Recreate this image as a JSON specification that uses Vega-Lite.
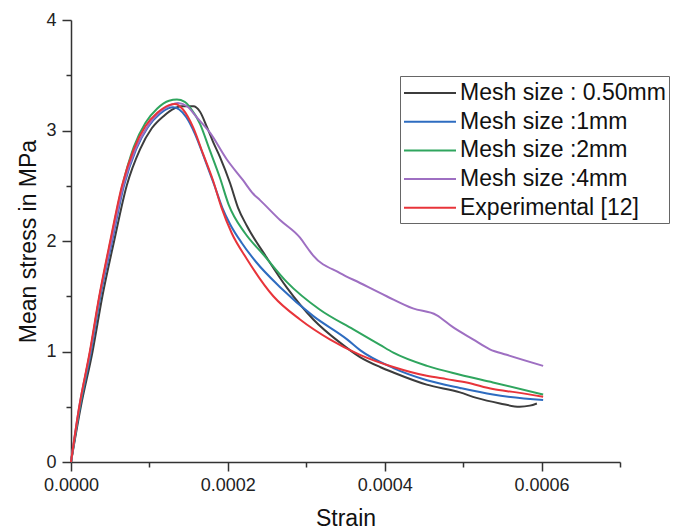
{
  "$schema": "https://vega.github.io/schema/vega-lite/v6.json",
  "width": 549,
  "height": 442,
  "autosize": "none",
  "padding": {"left": 71, "top": 20, "right": 61, "bottom": 67},
  "background": "white",
  "config": {
    "view": {"stroke": null},
    "font": "Liberation Sans",
    "axis": {"grid": false, "domainColor": "#333", "tickColor": "#333", "domainWidth": 1.5, "tickWidth": 1.5, "labelFont": "Liberation Sans", "labelFontSize": 18, "labelColor": "#222", "titleFont": "Liberation Sans", "titleFontSize": 23, "titleFontWeight": "normal", "titleColor": "#111"}
  },
  "data": {"values": [
    {"s": "Mesh size : 0.50mm", "x": 0, "y": 0},
    {"s": "Mesh size : 0.50mm", "x": 0.0000125, "y": 0.5},
    {"s": "Mesh size : 0.50mm", "x": 0.0000275, "y": 1.0},
    {"s": "Mesh size : 0.50mm", "x": 0.00004, "y": 1.5},
    {"s": "Mesh size : 0.50mm", "x": 0.000055, "y": 2.0},
    {"s": "Mesh size : 0.50mm", "x": 0.000071, "y": 2.5},
    {"s": "Mesh size : 0.50mm", "x": 0.000088, "y": 2.83},
    {"s": "Mesh size : 0.50mm", "x": 0.000103, "y": 3.02},
    {"s": "Mesh size : 0.50mm", "x": 0.000118, "y": 3.13},
    {"s": "Mesh size : 0.50mm", "x": 0.000132, "y": 3.2},
    {"s": "Mesh size : 0.50mm", "x": 0.00014, "y": 3.22},
    {"s": "Mesh size : 0.50mm", "x": 0.000156, "y": 3.22},
    {"s": "Mesh size : 0.50mm", "x": 0.0001645, "y": 3.17},
    {"s": "Mesh size : 0.50mm", "x": 0.0001734, "y": 3.03},
    {"s": "Mesh size : 0.50mm", "x": 0.000181, "y": 2.9},
    {"s": "Mesh size : 0.50mm", "x": 0.00019, "y": 2.76},
    {"s": "Mesh size : 0.50mm", "x": 0.000203, "y": 2.52},
    {"s": "Mesh size : 0.50mm", "x": 0.000213, "y": 2.3},
    {"s": "Mesh size : 0.50mm", "x": 0.000224, "y": 2.14},
    {"s": "Mesh size : 0.50mm", "x": 0.0002495, "y": 1.85},
    {"s": "Mesh size : 0.50mm", "x": 0.000275, "y": 1.58},
    {"s": "Mesh size : 0.50mm", "x": 0.000309, "y": 1.29},
    {"s": "Mesh size : 0.50mm", "x": 0.000343, "y": 1.08},
    {"s": "Mesh size : 0.50mm", "x": 0.0003685, "y": 0.95},
    {"s": "Mesh size : 0.50mm", "x": 0.000394, "y": 0.86},
    {"s": "Mesh size : 0.50mm", "x": 0.000411, "y": 0.81},
    {"s": "Mesh size : 0.50mm", "x": 0.0004535, "y": 0.7},
    {"s": "Mesh size : 0.50mm", "x": 0.000496, "y": 0.63},
    {"s": "Mesh size : 0.50mm", "x": 0.000517, "y": 0.58},
    {"s": "Mesh size : 0.50mm", "x": 0.000547, "y": 0.53},
    {"s": "Mesh size : 0.50mm", "x": 0.000572, "y": 0.5},
    {"s": "Mesh size : 0.50mm", "x": 0.000585, "y": 0.51},
    {"s": "Mesh size : 0.50mm", "x": 0.000594, "y": 0.53},

    {"s": "Mesh size :1mm", "x": 0, "y": 0},
    {"s": "Mesh size :1mm", "x": 0.0000115, "y": 0.5},
    {"s": "Mesh size :1mm", "x": 0.0000255, "y": 1.0},
    {"s": "Mesh size :1mm", "x": 0.0000375, "y": 1.5},
    {"s": "Mesh size :1mm", "x": 0.0000525, "y": 2.0},
    {"s": "Mesh size :1mm", "x": 0.0000675, "y": 2.5},
    {"s": "Mesh size :1mm", "x": 0.000083, "y": 2.83},
    {"s": "Mesh size :1mm", "x": 0.000098, "y": 3.03},
    {"s": "Mesh size :1mm", "x": 0.000113, "y": 3.15},
    {"s": "Mesh size :1mm", "x": 0.000124, "y": 3.2},
    {"s": "Mesh size :1mm", "x": 0.00013, "y": 3.21},
    {"s": "Mesh size :1mm", "x": 0.000138, "y": 3.19},
    {"s": "Mesh size :1mm", "x": 0.000147, "y": 3.12},
    {"s": "Mesh size :1mm", "x": 0.000158, "y": 2.97},
    {"s": "Mesh size :1mm", "x": 0.00017, "y": 2.75},
    {"s": "Mesh size :1mm", "x": 0.000183, "y": 2.5},
    {"s": "Mesh size :1mm", "x": 0.000193, "y": 2.3},
    {"s": "Mesh size :1mm", "x": 0.000203, "y": 2.15},
    {"s": "Mesh size :1mm", "x": 0.000218, "y": 1.98},
    {"s": "Mesh size :1mm", "x": 0.000236, "y": 1.81},
    {"s": "Mesh size :1mm", "x": 0.000267, "y": 1.58},
    {"s": "Mesh size :1mm", "x": 0.000309, "y": 1.32},
    {"s": "Mesh size :1mm", "x": 0.000352, "y": 1.11},
    {"s": "Mesh size :1mm", "x": 0.000369, "y": 1.01},
    {"s": "Mesh size :1mm", "x": 0.000411, "y": 0.85},
    {"s": "Mesh size :1mm", "x": 0.000454, "y": 0.74},
    {"s": "Mesh size :1mm", "x": 0.000496, "y": 0.67},
    {"s": "Mesh size :1mm", "x": 0.000538, "y": 0.61},
    {"s": "Mesh size :1mm", "x": 0.000602, "y": 0.56},

    {"s": "Mesh size :2mm", "x": 0, "y": 0},
    {"s": "Mesh size :2mm", "x": 0.000011, "y": 0.5},
    {"s": "Mesh size :2mm", "x": 0.0000245, "y": 1.0},
    {"s": "Mesh size :2mm", "x": 0.0000365, "y": 1.5},
    {"s": "Mesh size :2mm", "x": 0.0000505, "y": 2.0},
    {"s": "Mesh size :2mm", "x": 0.0000655, "y": 2.5},
    {"s": "Mesh size :2mm", "x": 0.00008, "y": 2.85},
    {"s": "Mesh size :2mm", "x": 0.000095, "y": 3.07},
    {"s": "Mesh size :2mm", "x": 0.00011, "y": 3.2},
    {"s": "Mesh size :2mm", "x": 0.000125, "y": 3.27},
    {"s": "Mesh size :2mm", "x": 0.000135, "y": 3.28},
    {"s": "Mesh size :2mm", "x": 0.000145, "y": 3.26},
    {"s": "Mesh size :2mm", "x": 0.0001517, "y": 3.21},
    {"s": "Mesh size :2mm", "x": 0.0001645, "y": 3.06},
    {"s": "Mesh size :2mm", "x": 0.000176, "y": 2.84},
    {"s": "Mesh size :2mm", "x": 0.00019, "y": 2.57},
    {"s": "Mesh size :2mm", "x": 0.000201, "y": 2.33},
    {"s": "Mesh size :2mm", "x": 0.000222, "y": 2.07},
    {"s": "Mesh size :2mm", "x": 0.000245, "y": 1.88},
    {"s": "Mesh size :2mm", "x": 0.000275, "y": 1.63},
    {"s": "Mesh size :2mm", "x": 0.000317, "y": 1.38},
    {"s": "Mesh size :2mm", "x": 0.00036, "y": 1.2},
    {"s": "Mesh size :2mm", "x": 0.000394, "y": 1.06},
    {"s": "Mesh size :2mm", "x": 0.000411, "y": 0.99},
    {"s": "Mesh size :2mm", "x": 0.000454, "y": 0.87},
    {"s": "Mesh size :2mm", "x": 0.000496, "y": 0.79},
    {"s": "Mesh size :2mm", "x": 0.000538, "y": 0.72},
    {"s": "Mesh size :2mm", "x": 0.000602, "y": 0.61},

    {"s": "Mesh size :4mm", "x": 0, "y": 0},
    {"s": "Mesh size :4mm", "x": 0.0000105, "y": 0.5},
    {"s": "Mesh size :4mm", "x": 0.0000245, "y": 1.0},
    {"s": "Mesh size :4mm", "x": 0.0000365, "y": 1.5},
    {"s": "Mesh size :4mm", "x": 0.0000515, "y": 2.0},
    {"s": "Mesh size :4mm", "x": 0.0000665, "y": 2.5},
    {"s": "Mesh size :4mm", "x": 0.000082, "y": 2.83},
    {"s": "Mesh size :4mm", "x": 0.000097, "y": 3.03},
    {"s": "Mesh size :4mm", "x": 0.000112, "y": 3.16},
    {"s": "Mesh size :4mm", "x": 0.000127, "y": 3.23},
    {"s": "Mesh size :4mm", "x": 0.0001364, "y": 3.25},
    {"s": "Mesh size :4mm", "x": 0.000148, "y": 3.22},
    {"s": "Mesh size :4mm", "x": 0.0001603, "y": 3.12},
    {"s": "Mesh size :4mm", "x": 0.0001772, "y": 2.98},
    {"s": "Mesh size :4mm", "x": 0.0001985, "y": 2.74},
    {"s": "Mesh size :4mm", "x": 0.0002193, "y": 2.55},
    {"s": "Mesh size :4mm", "x": 0.000232, "y": 2.43},
    {"s": "Mesh size :4mm", "x": 0.000241, "y": 2.37},
    {"s": "Mesh size :4mm", "x": 0.0002665, "y": 2.19},
    {"s": "Mesh size :4mm", "x": 0.000292, "y": 2.03},
    {"s": "Mesh size :4mm", "x": 0.0003022, "y": 1.93},
    {"s": "Mesh size :4mm", "x": 0.0003086, "y": 1.87},
    {"s": "Mesh size :4mm", "x": 0.000343, "y": 1.71},
    {"s": "Mesh size :4mm", "x": 0.0003685, "y": 1.62},
    {"s": "Mesh size :4mm", "x": 0.0004025, "y": 1.5},
    {"s": "Mesh size :4mm", "x": 0.000436, "y": 1.39},
    {"s": "Mesh size :4mm", "x": 0.000466, "y": 1.33},
    {"s": "Mesh size :4mm", "x": 0.000487, "y": 1.22},
    {"s": "Mesh size :4mm", "x": 0.0005126, "y": 1.11},
    {"s": "Mesh size :4mm", "x": 0.000534, "y": 1.02},
    {"s": "Mesh size :4mm", "x": 0.0005555, "y": 0.97},
    {"s": "Mesh size :4mm", "x": 0.000602, "y": 0.87},

    {"s": "Experimental [12]", "x": 0, "y": 0},
    {"s": "Experimental [12]", "x": 0.0000105, "y": 0.5},
    {"s": "Experimental [12]", "x": 0.000024, "y": 1.0},
    {"s": "Experimental [12]", "x": 0.000036, "y": 1.5},
    {"s": "Experimental [12]", "x": 0.00005, "y": 2.0},
    {"s": "Experimental [12]", "x": 0.000065, "y": 2.5},
    {"s": "Experimental [12]", "x": 0.00008, "y": 2.83},
    {"s": "Experimental [12]", "x": 0.000095, "y": 3.04},
    {"s": "Experimental [12]", "x": 0.00011, "y": 3.16},
    {"s": "Experimental [12]", "x": 0.000125, "y": 3.23},
    {"s": "Experimental [12]", "x": 0.0001326, "y": 3.24},
    {"s": "Experimental [12]", "x": 0.0001428, "y": 3.19},
    {"s": "Experimental [12]", "x": 0.0001556, "y": 3.03},
    {"s": "Experimental [12]", "x": 0.0001683, "y": 2.79},
    {"s": "Experimental [12]", "x": 0.000181, "y": 2.55},
    {"s": "Experimental [12]", "x": 0.000192, "y": 2.3},
    {"s": "Experimental [12]", "x": 0.000205, "y": 2.07},
    {"s": "Experimental [12]", "x": 0.000224, "y": 1.84},
    {"s": "Experimental [12]", "x": 0.000258, "y": 1.5},
    {"s": "Experimental [12]", "x": 0.000292, "y": 1.29},
    {"s": "Experimental [12]", "x": 0.00033, "y": 1.11},
    {"s": "Experimental [12]", "x": 0.0003685, "y": 0.97},
    {"s": "Experimental [12]", "x": 0.000411, "y": 0.86},
    {"s": "Experimental [12]", "x": 0.0004535, "y": 0.78},
    {"s": "Experimental [12]", "x": 0.000479, "y": 0.75},
    {"s": "Experimental [12]", "x": 0.0005045, "y": 0.72},
    {"s": "Experimental [12]", "x": 0.000538, "y": 0.66},
    {"s": "Experimental [12]", "x": 0.000568, "y": 0.63},
    {"s": "Experimental [12]", "x": 0.000602, "y": 0.59}
  ]},
  "mark": {"type": "line", "strokeWidth": 2, "interpolate": "monotone"},
  "encoding": {
    "x": {"field": "x", "type": "quantitative", "title": "Strain",
      "scale": {"domain": [0, 0.0007], "nice": false, "zero": false},
      "axis": {"values": [0, 0.0001, 0.0002, 0.0003, 0.0004, 0.0005, 0.0006, 0.0007], "format": ".4f",
        "labelExpr": "round(datum.value*10000) % 2 == 0 && datum.value < 0.00065 ? datum.label : ''",
        "tickSize": {"condition": {"test": "round(datum.value*10000) % 2 == 1", "value": 5}, "value": 9},
        "labelPadding": 5, "titleX": 274.5, "titleY": 63, "titleBaseline": "alphabetic", "labelFlush": false, "labelOverlap": false}},
    "y": {"field": "y", "type": "quantitative", "title": "Mean stress in MPa",
      "scale": {"domain": [0, 4], "nice": false},
      "axis": {"values": [0, 0.5, 1, 1.5, 2, 2.5, 3, 3.5, 4], "format": ".0f",
        "labelExpr": "datum.value % 1 == 0 ? datum.label : ''",
        "tickSize": {"condition": {"test": "datum.value % 1 != 0", "value": 5}, "value": 9},
        "labelPadding": 6, "titleX": -36, "titleY": 221, "titleBaseline": "alphabetic", "labelFlush": false, "labelOverlap": false}},
    "color": {"field": "s", "type": "nominal",
      "scale": {"domain": ["Mesh size : 0.50mm", "Mesh size :1mm", "Mesh size :2mm", "Mesh size :4mm", "Experimental [12]"],
        "range": ["#3c3c3c", "#2e6cc0", "#2fa55e", "#9e6fc2", "#e8343a"]},
      "legend": {"orient": "none", "legendX": 329, "legendY": 56, "title": null, "symbolType": "M-1,0H3", "symbolSize": 676, "symbolStrokeWidth": 2,
        "labelFontSize": 23, "labelFont": "Liberation Sans", "labelColor": "#111", "strokeColor": "#666", "fillColor": "white", "padding": 3, "rowPadding": 2.7, "labelOffset": 29, "labelLimit": 400}}
  }
}
